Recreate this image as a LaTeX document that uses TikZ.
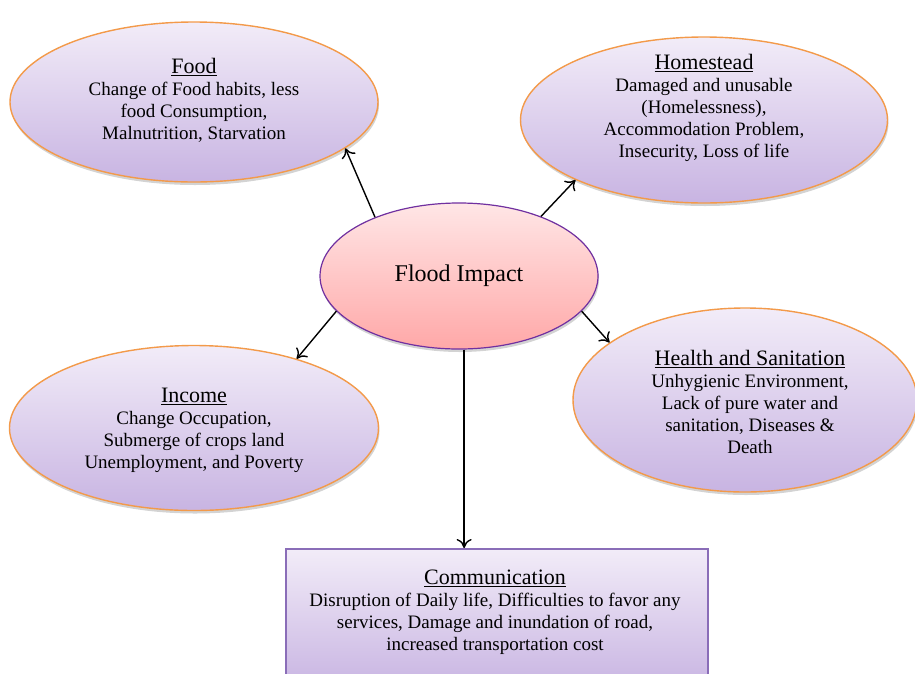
\documentclass[tikz,border=0pt]{standalone}
\usepackage{fontspec}
\setmainfont{Liberation Serif}
\usetikzlibrary{shapes.geometric,shadows,positioning,arrows.meta}

\definecolor{lavtop}{HTML}{F2ECF8}
\definecolor{lavbot}{HTML}{C8B4E2}
\definecolor{orangeline}{HTML}{F39A4A}
\definecolor{pinktop}{HTML}{FFE6E6}
\definecolor{pinkbot}{HTML}{FFA8A8}
\definecolor{purpleline}{HTML}{7030A0}
\definecolor{boxline}{HTML}{8A6DB8}

\tikzset{
  softshadow/.style={drop shadow={shadow xshift=1pt,shadow yshift=-3pt,fill=black!50,opacity=0.35}},
  impactell/.style={ellipse,draw=purpleline,line width=1.2pt,top color=pinktop,bottom color=pinkbot,softshadow,inner sep=0pt},
  effectell/.style={ellipse,draw=orangeline,line width=1.4pt,top color=lavtop,bottom color=lavbot,softshadow,inner sep=0pt},
  effectbox/.style={rectangle,draw=boxline,line width=2.4pt,top color=lavtop,bottom color=lavbot,softshadow,inner sep=0pt},
  effecttxt/.style={align=center,font=\fontsize{19}{22}\selectfont,inner sep=0pt},
  arr/.style={-{To[length=9pt,width=15pt]},line width=1.4pt}
}
\newcommand{\efftitle}[1]{{\fontsize{22}{23}\selectfont\underline{#1}}}

\begin{document}
\begin{tikzpicture}[x=1pt,y=-1pt]
  \useasboundingbox (0,0) rectangle (915,673);
  \clip (0,0) rectangle (915,673);

  % outer effects
  \node[effectell,minimum width=368pt,minimum height=160pt] (food) at (194,102) {};
  \node[effectell,minimum width=367pt,minimum height=166pt] (home) at (704,120) {};
  \node[effectell,minimum width=369pt,minimum height=165pt] (income) at (194,428) {};
  \node[effectell,minimum width=344pt,minimum height=184pt] (health) at (745,400) {};
  \node[effectbox,minimum width=422pt,minimum height=140pt,anchor=north west] (comm) at (285,548) {};

  % centre
  \node[impactell,minimum width=278pt,minimum height=146pt,font=\fontsize{24}{26}\selectfont] (impact) at (459,276) {Flood Impact};

  % texts
  \node[effecttxt] (foodtxt) at (194,100) {\efftitle{Food}\\Change of Food habits, less\\food Consumption,\\Malnutrition, Starvation};
  \node[effecttxt] (hometxt) at (704,108) {\efftitle{Homestead}\\Damaged and unusable\\(Homelessness),\\Accommodation Problem,\\Insecurity, Loss of life};
  \node[effecttxt] (inctxt) at (194,430) {\efftitle{Income}\\Change Occupation,\\Submerge of crops land\\Unemployment, and Poverty};
  \node[effecttxt] (healthtxt) at (750,402) {\efftitle{Health and Sanitation}\\Unhygienic Environment,\\Lack of pure water and\\sanitation, Diseases \&\\Death};
  \node[effecttxt] (commtxt) at (495,612) {\efftitle{Communication}\\Disruption of Daily life, Difficulties to favor any\\services, Damage and inundation of road,\\increased transportation cost};

  % arrows
  \draw[arr] (impact.145) -- (food.-17);
  \draw[arr] (impact.36) -- (home.-155);
  \draw[arr] (impact.196) -- (income.34);
  \draw[arr] (impact.-16) -- (health.157);
  \draw[arr] (impact.-86) -- (impact.-86 |- comm.north);
\end{tikzpicture}
\end{document}
